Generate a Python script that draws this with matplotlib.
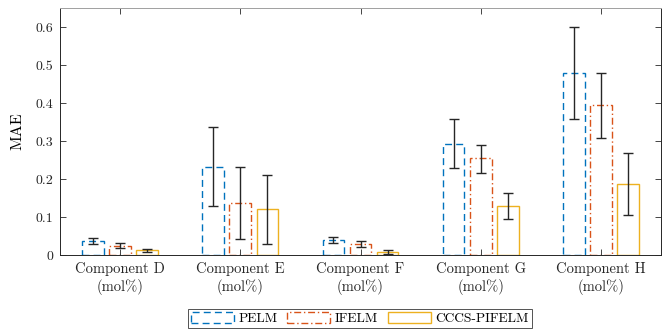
import matplotlib
matplotlib.use("Agg")
import matplotlib.pyplot as plt
import numpy as np
from matplotlib.patches import Rectangle

plt.rcParams['font.family'] = ['cmr10', 'DejaVu Serif']
plt.rcParams['mathtext.fontset'] = 'cm'
plt.rcParams['axes.formatter.use_mathtext'] = True

categories = ["Component D\n(mol%)", "Component E\n(mol%)", "Component F\n(mol%)",
              "Component G\n(mol%)", "Component H\n(mol%)"]
series = ["PELM", "IFELM", "CCCS-PIFELM"]
pelm = [0.038, 0.231, 0.040, 0.293, 0.479]
pelm_lo = [0.029, 0.128, 0.032, 0.228, 0.358]
pelm_hi = [0.045, 0.336, 0.047, 0.358, 0.599]
ifelm = [0.025, 0.138, 0.029, 0.254, 0.394]
ifelm_lo = [0.019, 0.043, 0.022, 0.217, 0.309]
ifelm_hi = [0.032, 0.232, 0.036, 0.289, 0.480]
cccs = [0.013, 0.120, 0.008, 0.130, 0.188]
cccs_lo = [0.007, 0.028, 0.003, 0.096, 0.104]
cccs_hi = [0.017, 0.211, 0.013, 0.164, 0.268]

values = [pelm, ifelm, cccs]
lows = [pelm_lo, ifelm_lo, cccs_lo]
highs = [pelm_hi, ifelm_hi, cccs_hi]
colors = ["#0072BD", "#D95319", "#EDB120"]
styles = [(0, (5, 3)), (0, (5, 2, 1, 2)), "-"]

fig = plt.figure(figsize=(6.68, 3.34), dpi=100)
ax = fig.add_axes([60/668, 1-255/334, 601/668, 247/334])

x = np.arange(1, len(categories) + 1)
offsets = [-0.225, 0.0, 0.225]
width = 0.18
handles = []
for v, lo, hi, c, ls, off, name in zip(values, lows, highs, colors, styles, offsets, series):
    v = np.array(v); lo = np.array(lo); hi = np.array(hi)
    ax.bar(x + off, v, width, facecolor="none", edgecolor=c, linestyle=ls,
           linewidth=1.0, label=name)
    ax.errorbar(x + off, v, yerr=[v - lo, hi - v], fmt="none", ecolor="#262626",
                elinewidth=1.0, capsize=3.5, capthick=1.0)
    handles.append(Rectangle((0, 0), 1, 1, facecolor="none", edgecolor=c,
                             linestyle=ls, linewidth=1.0))

ax.set_xlim(0.5, 5.5)
ax.set_ylim(0, 0.65)
ax.set_xticks(x)
ax.set_xticklabels(categories, fontsize=10.5, linespacing=1.25)
ax.set_yticks([0, 0.1, 0.2, 0.3, 0.4, 0.5, 0.6])
ax.set_yticklabels(["0", "0.1", "0.2", "0.3", "0.4", "0.5", "0.6"], fontsize=10)
ax.set_ylabel("MAE", fontsize=11.5, labelpad=8)
ax.tick_params(direction="in", top=True, right=True, length=4, width=0.6,
               colors="#262626", pad=5)
for s in ax.spines.values():
    s.set_color("#262626")
    s.set_linewidth(0.7)
ax.spines['top'].set_color("#a0a0a0")

leg = fig.legend(handles, series, loc="center", bbox_to_anchor=(360/668, 1-318.5/334),
                 ncol=3, fontsize=9.7, frameon=True, fancybox=False, edgecolor="#262626",
                 handlelength=3.2, handleheight=0.9, columnspacing=0.7, handletextpad=0.35,
                 borderpad=0.25, borderaxespad=0)
leg.get_frame().set_linewidth(0.7)

fig.savefig("out.png", dpi=100)
